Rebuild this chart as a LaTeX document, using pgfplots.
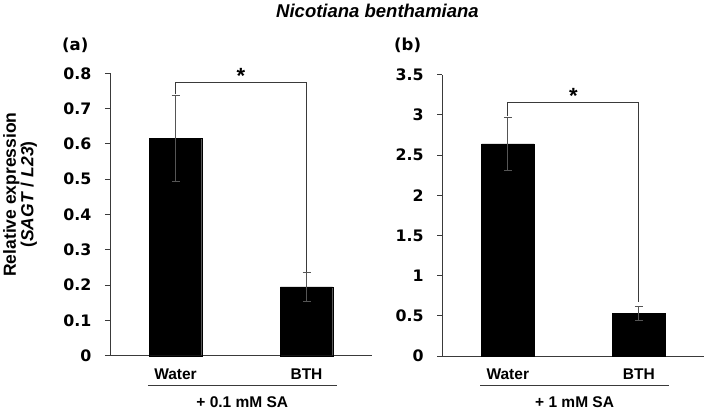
\documentclass[border=0pt]{standalone}
\usepackage{pgfplots}
\pgfplotsset{compat=1.18}
\usepackage{fontspec}
\setmainfont{Liberation Sans}
\newfontfamily\vfont{DejaVu Sans}
\definecolor{axgray}{HTML}{3A3A3A}
\definecolor{errgray}{HTML}{555555}

\pgfplotstableread{
x y err
0 0.615 0.122
1 0.195 0.040
}\leftdata
\pgfplotstableread{
x y err
0 2.64 0.33
1 0.53 0.09
}\rightdata

\pgfplotsset{
  panel/.style={
    scale only axis,
    width=262bp,
    axis x line=bottom,
    axis y line=left,
    axis line style={-, axgray, line width=0.9bp},
    xmin=-0.5, xmax=1.5,
    ymin=0,
    xtick={0,1},
    xticklabels={},
    x tick style={draw=none},
    extra x ticks={-0.5,0.5,1.5},
    extra x tick labels={},
    extra x tick style={tick style={draw=axgray, line width=0.9bp}, major tick length=5bp, tick align=outside},
    tick align=outside,
    y tick style={draw=axgray, line width=0.9bp},
    major tick length=5bp,
    /pgf/number format/assume math mode=true,
    yticklabel style={font=\vfont\bfseries\fontsize{15.8bp}{18bp}\selectfont, inner sep=0pt, xshift=-13.5bp},
    clip=false,
  },
  bars/.style={ybar, bar width=0.4, fill=black, draw=black,
    error bars/.cd, y dir=both, y explicit,
    error bar style={errgray, line width=0.9bp},
    error mark options={errgray, line width=0.9bp, mark size=4bp, rotate=90}},
  bracket/.style={axgray, line width=0.9bp, no marks, sharp plot, forget plot},
}

\begin{document}
\begin{tikzpicture}
\useasboundingbox (0,0) rectangle (709bp,410bp);

% title
\node[anchor=base, inner sep=0pt, font=\bfseries\itshape\fontsize{18.5bp}{20bp}\selectfont] at (377.5bp,392bp) {Nicotiana benthamiana};

% panel labels
\node[anchor=base west, inner sep=0pt, font=\vfont\bfseries\fontsize{16.5bp}{18bp}\selectfont] at (62bp,359bp) {(a)};
\node[anchor=base west, inner sep=0pt, font=\vfont\bfseries\fontsize{16.5bp}{18bp}\selectfont] at (394bp,359bp) {(b)};

% y label
\node[rotate=90, align=center, inner sep=0pt, font=\bfseries\fontsize{17.5bp}{17.5bp}\selectfont] at (20bp,215.5bp) {Relative expression\\(\textit{SAGT} / \textit{L23})};

% left panel
\begin{axis}[panel, at={(110bp,54.3bp)}, anchor=south west, height=282.4bp, ymax=0.8,
  ytick={0,0.1,...,0.8}]
\addplot[bars] table[x=x, y=y, y error=err] {\leftdata};
\addplot[bracket] coordinates {(0,0.740) (0,0.775) (1,0.775) (1,0.236)};
\node[anchor=north, inner sep=0pt, font=\bfseries\fontsize{22bp}{22bp}\selectfont] at (axis cs:0.5,0.815) {*};
\node[anchor=base, inner sep=0pt, font=\bfseries\fontsize{15.5bp}{18bp}\selectfont] at ([yshift=-23.3bp]axis cs:0,0) {Water};
\node[anchor=base, inner sep=0pt, font=\bfseries\fontsize{15.5bp}{18bp}\selectfont] at ([yshift=-23.3bp]axis cs:1,0) {BTH};
\draw[axgray, line width=0.9bp] ([yshift=-29.5bp]axis cs:-0.21,0) -- ([yshift=-29.5bp]axis cs:1.23,0);
\node[anchor=base, inner sep=0pt, font=\bfseries\fontsize{15.5bp}{18bp}\selectfont] at ([yshift=-51.5bp]axis cs:0.51,0) {+ 0.1 mM SA};
\end{axis}

% right panel
\begin{axis}[panel, at={(442.3bp,54bp)}, anchor=south west, height=281.3bp, ymax=3.5,
  ytick={0,0.5,...,3.5}]
\addplot[bars] table[x=x, y=y, y error=err] {\rightdata};
\addplot[bracket] coordinates {(0,2.98) (0,3.152) (1,3.152) (1,0.676)};
\node[anchor=north, inner sep=0pt, font=\bfseries\fontsize{22bp}{22bp}\selectfont] at (axis cs:0.5,3.334) {*};
\node[anchor=base, inner sep=0pt, font=\bfseries\fontsize{15.5bp}{18bp}\selectfont] at ([yshift=-23bp]axis cs:0,0) {Water};
\node[anchor=base, inner sep=0pt, font=\bfseries\fontsize{15.5bp}{18bp}\selectfont] at ([yshift=-23bp]axis cs:1,0) {BTH};
\draw[axgray, line width=0.9bp] ([yshift=-29bp]axis cs:-0.21,0) -- ([yshift=-29bp]axis cs:1.23,0);
\node[anchor=base, inner sep=0pt, font=\bfseries\fontsize{15.5bp}{18bp}\selectfont] at ([yshift=-51bp]axis cs:0.51,0) {+ 1 mM SA};
\end{axis}
\end{tikzpicture}
\end{document}
